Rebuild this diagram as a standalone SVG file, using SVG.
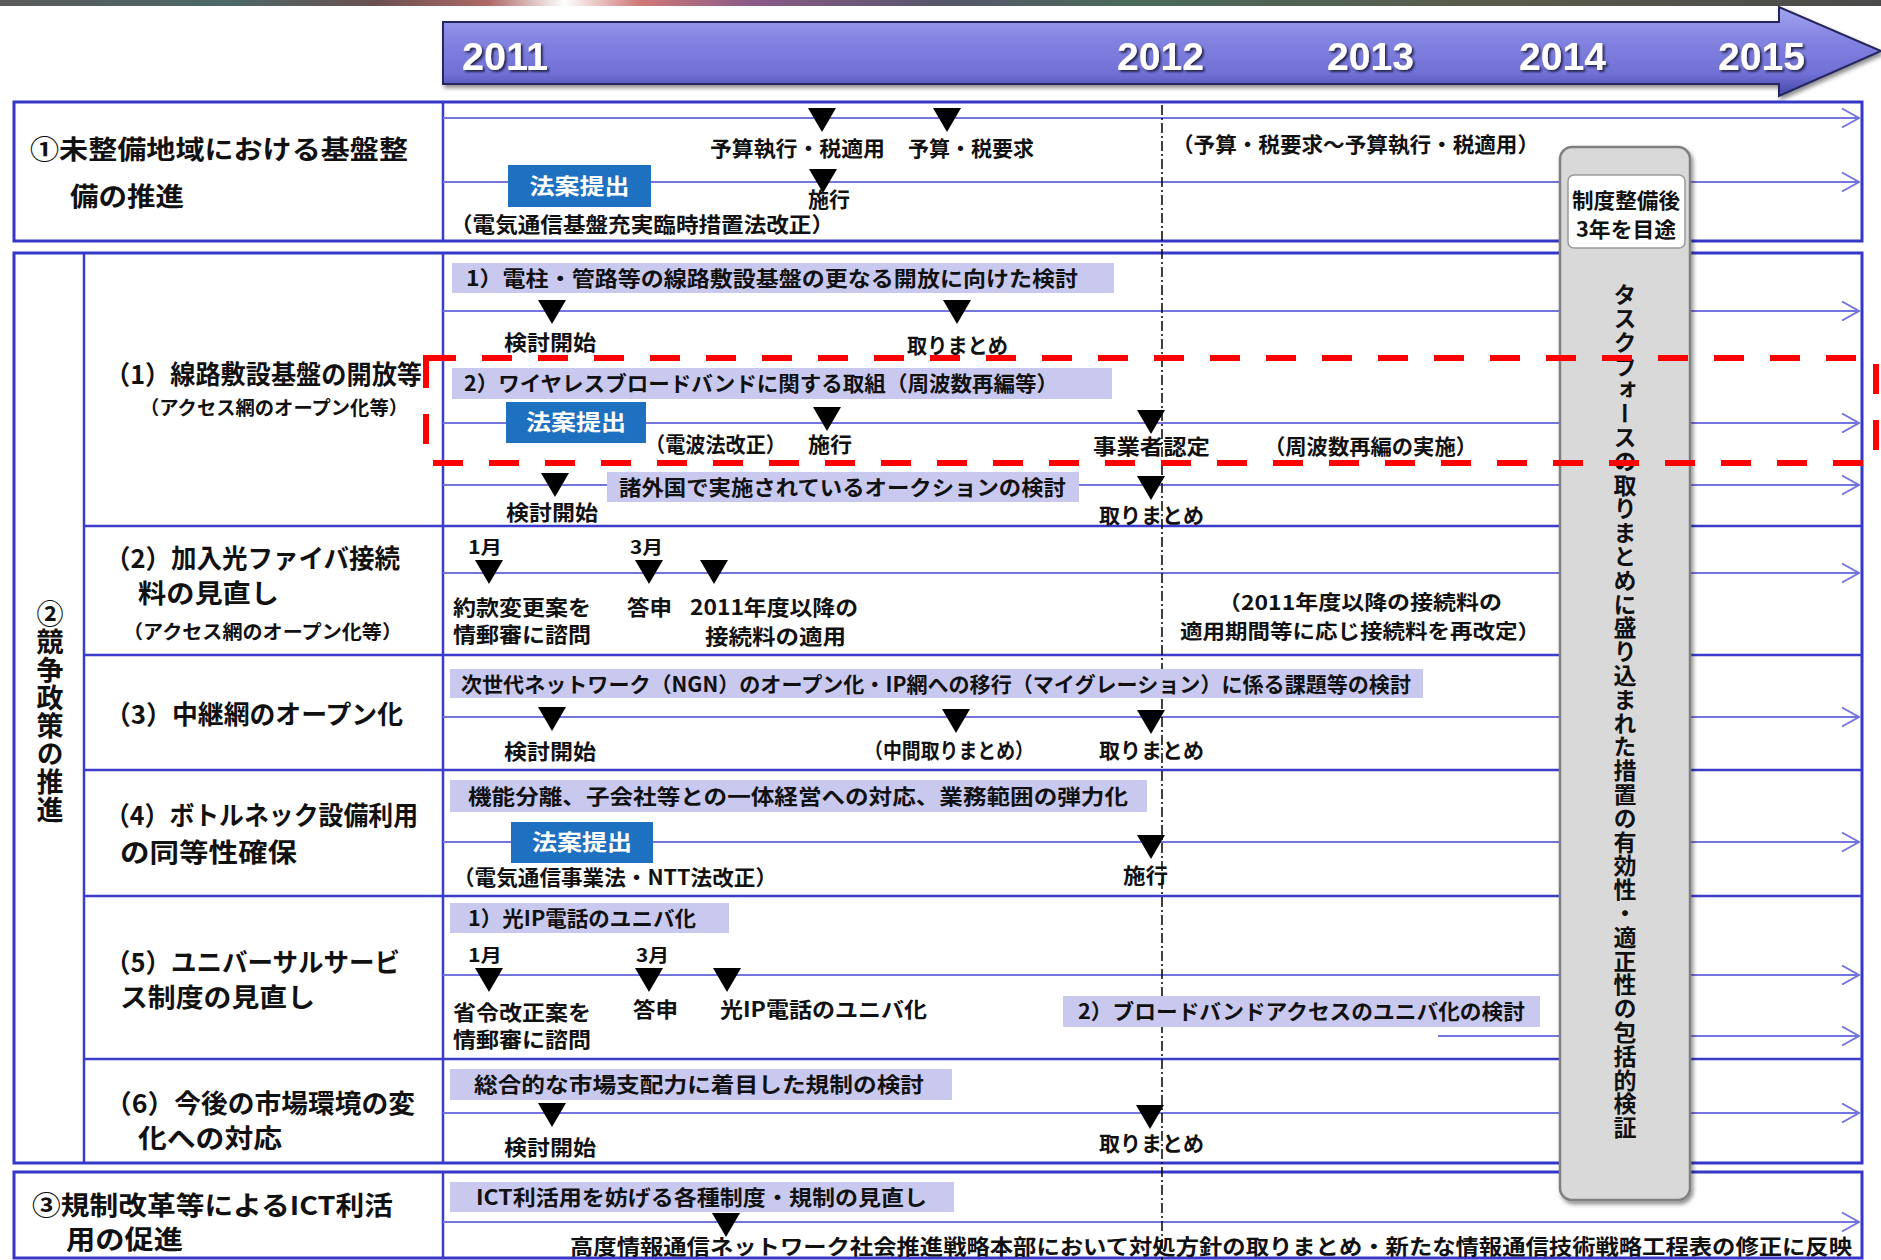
<svg xmlns="http://www.w3.org/2000/svg" xmlns:xlink="http://www.w3.org/1999/xlink" width="1881" height="1260" viewBox="0 0 1881 1260">
<defs>
<linearGradient id="strip" x1="0" y1="0" x2="1" y2="0">
<stop offset="0" stop-color="#5a5a5a"/><stop offset="0.12" stop-color="#4c6868"/><stop offset="0.2" stop-color="#6a5050"/><stop offset="0.26" stop-color="#b06868"/><stop offset="0.3" stop-color="#ffffff"/><stop offset="0.34" stop-color="#d07878"/><stop offset="0.4" stop-color="#8a5a88"/><stop offset="0.5" stop-color="#56566a"/><stop offset="0.6" stop-color="#4a6a5a"/><stop offset="0.8" stop-color="#5a5a4c"/><stop offset="1" stop-color="#4a4a4a"/>
</linearGradient>
<linearGradient id="arrowg" x1="0" y1="0" x2="0" y2="1">
<stop offset="0" stop-color="#a4a4f2"/><stop offset="0.35" stop-color="#8484e2"/><stop offset="0.75" stop-color="#7070d6"/><stop offset="1" stop-color="#4646a6"/>
</linearGradient>
<filter id="shadow" x="-5%" y="-5%" width="110%" height="120%"><feDropShadow dx="2" dy="3" stdDeviation="2" flood-color="#000" flood-opacity="0.45"/></filter>
<filter id="tshadow"><feDropShadow dx="2" dy="2" stdDeviation="1" flood-color="#1a1a40" flood-opacity="0.9"/></filter>
<marker id="chev" markerUnits="userSpaceOnUse" markerWidth="22" markerHeight="22" refX="17" refY="9.5" orient="auto" overflow="visible">
<path d="M0,0 L17,9.5 L0,19" fill="none" stroke="#7474de" stroke-width="2"/>
</marker>
<path id="tri" d="M-14,0 H14 L0,24 Z" fill="#000"/>
</defs>
<style>
.t{font-family:"Noto Sans CJK JP","Noto Sans CJK SC",sans-serif;font-weight:700;fill:#111}
.lbl{font-size:26px}
.sub{font-size:19px}
.tt{font-size:21px}
.tn{font-size:20px}
.mo{font-size:18px}
.yr{font-family:"Liberation Sans",Arial,sans-serif;font-weight:700;font-size:38px;fill:#fff;filter:url(#tshadow)}
.sec{fill:none;stroke:#3636c9;stroke-width:3}
.div{stroke:#3c3ccc;stroke-width:2.5}
.rl{stroke:#7474de;stroke-width:2;fill:none;marker-end:url(#chev)}
.bar{fill:#c9c9ef}
.law{fill:#1e70c0}
.lawt{fill:#fff;font-size:22px}
.vert{writing-mode:vertical-rl}
</style>
<rect x="0" y="0" width="1881" height="1260" fill="#fff"/>
<rect x="0" y="0" width="1881" height="6" fill="url(#strip)"/>

<g id="timeline-header">
<path d="M443,22 H1779 V7 L1881,51 L1779,96 V84 H443 Z" fill="url(#arrowg)" stroke="#25255e" stroke-width="2" filter="url(#shadow)"/>
<text class="yr" x="462" y="70" textLength="86" lengthAdjust="spacingAndGlyphs">2011</text>
<text class="yr" x="1117" y="70" textLength="87" lengthAdjust="spacingAndGlyphs">2012</text>
<text class="yr" x="1327" y="70" textLength="87" lengthAdjust="spacingAndGlyphs">2013</text>
<text class="yr" x="1519" y="70" textLength="87" lengthAdjust="spacingAndGlyphs">2014</text>
<text class="yr" x="1718" y="70" textLength="87" lengthAdjust="spacingAndGlyphs">2015</text>
</g>

<g id="frames">
<rect class="sec" x="14" y="102" width="1848" height="139"/>
<rect class="sec" x="14" y="253" width="1848" height="910"/>
<rect class="sec" x="14" y="1172" width="1848" height="86"/>
<line class="div" x1="443" y1="102" x2="443" y2="241"/>
<line class="div" x1="443" y1="253" x2="443" y2="1163"/>
<line class="div" x1="443" y1="1172" x2="443" y2="1258"/>
<line class="div" x1="84" y1="253" x2="84" y2="1163"/>
<line class="div" x1="84" y1="526" x2="1862" y2="526"/>
<line class="div" x1="84" y1="655" x2="1862" y2="655"/>
<line class="div" x1="84" y1="770" x2="1862" y2="770"/>
<line class="div" x1="84" y1="896" x2="1862" y2="896"/>
<line class="div" x1="84" y1="1059" x2="1862" y2="1059"/>
</g>

<g id="connectors">
<line class="rl" x1="443" y1="118" x2="1859" y2="118"/>
<line class="rl" x1="443" y1="182" x2="1859" y2="182"/>
<line class="rl" x1="443" y1="311" x2="1859" y2="311"/>
<line class="rl" x1="443" y1="423" x2="1859" y2="423"/>
<line class="rl" x1="443" y1="485" x2="1859" y2="485"/>
<line class="rl" x1="443" y1="573" x2="1859" y2="573"/>
<line class="rl" x1="443" y1="717" x2="1859" y2="717"/>
<line class="rl" x1="443" y1="842" x2="1859" y2="842"/>
<line class="rl" x1="443" y1="975" x2="1859" y2="975"/>
<line class="rl" x1="1438" y1="1036" x2="1859" y2="1036"/>
<line class="rl" x1="443" y1="1113" x2="1859" y2="1113"/>
<line class="rl" x1="443" y1="1222" x2="1859" y2="1222"/>
<line id="fy2012" x1="1162" y1="105" x2="1162" y2="1260" stroke="#111" stroke-width="1.6" stroke-dasharray="10,3,2,3"/>
</g>

<g id="sec1">
<text class="t lbl" x="30" y="159" textLength="378" lengthAdjust="spacingAndGlyphs">①未整備地域における基盤整</text>
<text class="t lbl" x="70" y="206" textLength="114" lengthAdjust="spacingAndGlyphs">備の推進</text>
<rect class="law" x="508" y="165" width="143" height="42"/>
<text class="t lawt" x="579.5" y="194" text-anchor="middle" textLength="100" lengthAdjust="spacingAndGlyphs">法案提出</text>
<use href="#tri" x="822" y="108"/>
<use href="#tri" x="947" y="108"/>
<use href="#tri" x="823" y="169"/>
<text class="t tt" x="710" y="156" textLength="175" lengthAdjust="spacingAndGlyphs">予算執行・税適用</text>
<text class="t tt" x="908" y="156" textLength="126" lengthAdjust="spacingAndGlyphs">予算・税要求</text>
<text class="t tt" x="808" y="207" textLength="42" lengthAdjust="spacingAndGlyphs">施行</text>
<text class="t tt" x="450" y="232" textLength="384" lengthAdjust="spacingAndGlyphs">（電気通信基盤充実臨時措置法改正）</text>
<text class="t tt" x="1172" y="152" textLength="367" lengthAdjust="spacingAndGlyphs">（予算・税要求～予算執行・税適用）</text>
</g>

<g id="sec2-title">
<text class="t vert" x="50" y="600" font-size="27" letter-spacing="1">②競争政策の推進</text>
</g>

<g id="row1">
<text class="t lbl" x="105" y="384" textLength="317" lengthAdjust="spacingAndGlyphs">（1）線路敷設基盤の開放等</text>
<text class="t sub" x="140" y="415" textLength="268" lengthAdjust="spacingAndGlyphs">（アクセス網のオープン化等）</text>
<rect class="bar" x="452" y="263" width="662" height="30"/>
<text class="t tt" x="466" y="286" textLength="612" lengthAdjust="spacingAndGlyphs">1）電柱・管路等の線路敷設基盤の更なる開放に向けた検討</text>
<use href="#tri" x="552" y="300"/>
<use href="#tri" x="957" y="300"/>
<text class="t tt" x="504" y="350" textLength="92" lengthAdjust="spacingAndGlyphs">検討開始</text>
<text class="t tt" x="907" y="353" textLength="101" lengthAdjust="spacingAndGlyphs">取りまとめ</text>
<rect class="bar" x="452" y="368" width="660" height="31"/>
<text class="t tt" x="464" y="391" textLength="594" lengthAdjust="spacingAndGlyphs">2）ワイヤレスブロードバンドに関する取組（周波数再編等）</text>
<rect class="law" x="506" y="402" width="140" height="41"/>
<text class="t lawt" x="576" y="430" text-anchor="middle" textLength="100" lengthAdjust="spacingAndGlyphs">法案提出</text>
<use href="#tri" x="827" y="407"/>
<use href="#tri" x="1151" y="410"/>
<text class="t tt" x="645" y="452" textLength="141" lengthAdjust="spacingAndGlyphs">（電波法改正）</text>
<text class="t tt" x="808" y="452" textLength="44" lengthAdjust="spacingAndGlyphs">施行</text>
<text class="t tt" x="1093" y="454" textLength="117" lengthAdjust="spacingAndGlyphs">事業者認定</text>
<text class="t tt" x="1264" y="454" textLength="213" lengthAdjust="spacingAndGlyphs">（周波数再編の実施）</text>
<rect class="bar" x="607" y="472" width="472" height="30"/>
<text class="t tt" x="619" y="495" textLength="447" lengthAdjust="spacingAndGlyphs">諸外国で実施されているオークションの検討</text>
<use href="#tri" x="555" y="473"/>
<use href="#tri" x="1151" y="476"/>
<text class="t tt" x="506" y="520" textLength="92" lengthAdjust="spacingAndGlyphs">検討開始</text>
<text class="t tt" x="1099" y="523" textLength="105" lengthAdjust="spacingAndGlyphs">取りまとめ</text>
</g>

<g id="row2">
<text class="t lbl" x="105" y="568" textLength="295" lengthAdjust="spacingAndGlyphs">（2）加入光ファイバ接続</text>
<text class="t lbl" x="138" y="603" textLength="141" lengthAdjust="spacingAndGlyphs">料の見直し</text>
<text class="t sub" x="123" y="639" textLength="279" lengthAdjust="spacingAndGlyphs">（アクセス網のオープン化等）</text>
<text class="t mo" x="468" y="554" textLength="34" lengthAdjust="spacingAndGlyphs">1月</text>
<text class="t mo" x="630" y="554" textLength="33" lengthAdjust="spacingAndGlyphs">3月</text>
<use href="#tri" x="489" y="560"/>
<use href="#tri" x="649" y="560"/>
<use href="#tri" x="714" y="560"/>
<text class="t tt" x="453" y="615" textLength="138" lengthAdjust="spacingAndGlyphs">約款変更案を</text>
<text class="t tt" x="453" y="642" textLength="138" lengthAdjust="spacingAndGlyphs">情郵審に諮問</text>
<text class="t tt" x="627" y="615" textLength="45" lengthAdjust="spacingAndGlyphs">答申</text>
<text class="t tt" x="690" y="615" textLength="168" lengthAdjust="spacingAndGlyphs">2011年度以降の</text>
<text class="t tt" x="705" y="644" textLength="141" lengthAdjust="spacingAndGlyphs">接続料の適用</text>
<text class="t tn" x="1218" y="610" textLength="284" lengthAdjust="spacingAndGlyphs">（2011年度以降の接続料の</text>
<text class="t tn" x="1180" y="639" textLength="360" lengthAdjust="spacingAndGlyphs">適用期間等に応じ接続料を再改定）</text>
</g>

<g id="row3">
<text class="t lbl" x="105" y="724" textLength="298" lengthAdjust="spacingAndGlyphs">（3）中継網のオープン化</text>
<rect class="bar" x="450" y="669" width="973" height="29"/>
<text class="t tt" x="461" y="692" textLength="950" lengthAdjust="spacingAndGlyphs">次世代ネットワーク（NGN）のオープン化・IP網への移行（マイグレーション）に係る課題等の検討</text>
<use href="#tri" x="552" y="707"/>
<use href="#tri" x="956" y="709"/>
<use href="#tri" x="1151" y="710"/>
<text class="t tt" x="504" y="759" textLength="92" lengthAdjust="spacingAndGlyphs">検討開始</text>
<text class="t tt" x="864" y="758" textLength="170" lengthAdjust="spacingAndGlyphs">（中間取りまとめ）</text>
<text class="t tt" x="1099" y="758" textLength="105" lengthAdjust="spacingAndGlyphs">取りまとめ</text>
</g>

<g id="row4">
<text class="t lbl" x="105" y="825" textLength="313" lengthAdjust="spacingAndGlyphs">（4）ボトルネック設備利用</text>
<text class="t lbl" x="120" y="862" textLength="177" lengthAdjust="spacingAndGlyphs">の同等性確保</text>
<rect class="bar" x="450" y="780" width="697" height="32"/>
<text class="t tt" x="468" y="804" textLength="660" lengthAdjust="spacingAndGlyphs">機能分離、子会社等との一体経営への対応、業務範囲の弾力化</text>
<rect class="law" x="511" y="822" width="142" height="41"/>
<text class="t lawt" x="582" y="850" text-anchor="middle" textLength="100" lengthAdjust="spacingAndGlyphs">法案提出</text>
<use href="#tri" x="1151" y="835"/>
<text class="t tt" x="453" y="885" textLength="324" lengthAdjust="spacingAndGlyphs">（電気通信事業法・NTT法改正）</text>
<text class="t tt" x="1123" y="883" textLength="45" lengthAdjust="spacingAndGlyphs">施行</text>
</g>

<g id="row5">
<text class="t lbl" x="105" y="972" textLength="295" lengthAdjust="spacingAndGlyphs">（5）ユニバーサルサービ</text>
<text class="t lbl" x="120" y="1007" textLength="195" lengthAdjust="spacingAndGlyphs">ス制度の見直し</text>
<rect class="bar" x="450" y="903" width="279" height="30"/>
<text class="t tt" x="468" y="926" textLength="228" lengthAdjust="spacingAndGlyphs">1）光IP電話のユニバ化</text>
<text class="t mo" x="468" y="962" textLength="34" lengthAdjust="spacingAndGlyphs">1月</text>
<text class="t mo" x="636" y="962" textLength="33" lengthAdjust="spacingAndGlyphs">3月</text>
<use href="#tri" x="489" y="968"/>
<use href="#tri" x="649" y="968"/>
<use href="#tri" x="727" y="968"/>
<text class="t tt" x="453" y="1020" textLength="138" lengthAdjust="spacingAndGlyphs">省令改正案を</text>
<text class="t tt" x="453" y="1047" textLength="138" lengthAdjust="spacingAndGlyphs">情郵審に諮問</text>
<text class="t tt" x="633" y="1017" textLength="45" lengthAdjust="spacingAndGlyphs">答申</text>
<text class="t tt" x="720" y="1017" textLength="207" lengthAdjust="spacingAndGlyphs">光IP電話のユニバ化</text>
<rect class="bar" x="1063" y="996" width="477" height="31"/>
<text class="t tt" x="1078" y="1019" textLength="447" lengthAdjust="spacingAndGlyphs">2）ブロードバンドアクセスのユニバ化の検討</text>
</g>

<g id="row6">
<text class="t lbl" x="105" y="1113" textLength="310" lengthAdjust="spacingAndGlyphs">（6）今後の市場環境の変</text>
<text class="t lbl" x="138" y="1148" textLength="144" lengthAdjust="spacingAndGlyphs">化への対応</text>
<rect class="bar" x="450" y="1069" width="502" height="31"/>
<text class="t tt" x="474" y="1092" textLength="450" lengthAdjust="spacingAndGlyphs">総合的な市場支配力に着目した規制の検討</text>
<use href="#tri" x="552" y="1103"/>
<use href="#tri" x="1150" y="1105"/>
<text class="t tt" x="504" y="1155" textLength="92" lengthAdjust="spacingAndGlyphs">検討開始</text>
<text class="t tt" x="1099" y="1151" textLength="105" lengthAdjust="spacingAndGlyphs">取りまとめ</text>
</g>

<g id="sec3">
<text class="t lbl" x="32" y="1215" textLength="361" lengthAdjust="spacingAndGlyphs">③規制改革等によるICT利活</text>
<text class="t lbl" x="66" y="1249" textLength="117" lengthAdjust="spacingAndGlyphs">用の促進</text>
<rect class="bar" x="450" y="1182" width="504" height="30"/>
<text class="t tt" x="476" y="1205" textLength="451" lengthAdjust="spacingAndGlyphs">ICT利活用を妨げる各種制度・規制の見直し</text>
<use href="#tri" x="726" y="1213"/>
<text class="t tt" x="570" y="1254" textLength="1282" lengthAdjust="spacingAndGlyphs">高度情報通信ネットワーク社会推進戦略本部において対処方針の取りまとめ・新たな情報通信技術戦略工程表の修正に反映</text>
</g>

<g id="taskforce">
<rect x="1560" y="147" width="130" height="1053" rx="12" fill="#d9d9d9" stroke="#7f7f7f" stroke-width="2.5" filter="url(#shadow)"/>
<rect x="1568" y="175" width="117" height="73" rx="6" fill="#fff" stroke="#9a9a9a" stroke-width="1.5"/>
<text class="t" x="1626" y="208" font-size="21" text-anchor="middle" textLength="108" lengthAdjust="spacingAndGlyphs">制度整備後</text>
<text class="t" x="1626" y="237" font-size="21" text-anchor="middle" textLength="100" lengthAdjust="spacingAndGlyphs">3年を目途</text>
<text class="t vert" x="1625" y="283" font-size="23" letter-spacing="0.8">タスクフォースの取りまとめに盛り込まれた措置の有効性・適正性の包括的検証</text>
</g>

<g id="highlight">
<rect x="426" y="358" width="1450" height="105" fill="none" stroke="#ff0000" stroke-width="6" stroke-dasharray="30,26"/>
</g>
</svg>
